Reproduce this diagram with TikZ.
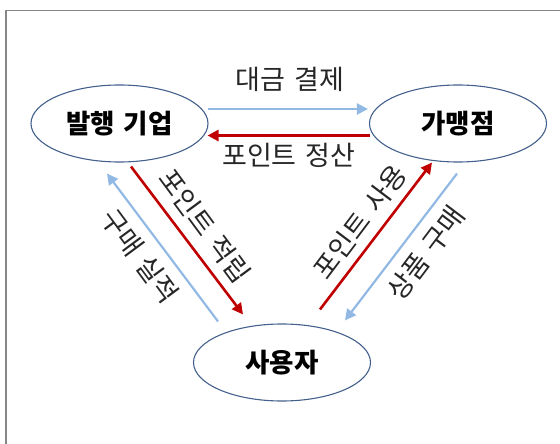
\documentclass[tikz,border=0pt]{standalone}
\usepackage{fontspec}
\usepackage{graphicx}
\setmainfont{Noto Sans CJK KR}
\usetikzlibrary{shapes.geometric,arrows.meta}
\definecolor{ellc}{RGB}{68,96,140}
\definecolor{bluea}{RGB}{145,185,228}
\definecolor{reda}{RGB}{192,0,0}
\definecolor{framec}{RGB}{135,135,135}
\newcommand{\wsp}{\hspace{0.34em}}
\tikzset{
  ell/.style={ellipse, draw=ellc, line width=1.1pt, minimum width=177pt, minimum height=77pt, inner sep=0pt,
    font=\fontsize{26.5}{30}\selectfont\bfseries},
  lbl/.style={inner sep=0pt, font=\fontsize{27}{31}\selectfont, text=black!85},
  bluearr/.style={draw=bluea, line width=2.2pt, -{Triangle[length=11pt,width=11pt]}},
  redarr/.style={draw=reda, line width=2.6pt, -{Triangle[length=11pt,width=11pt]}}
}
\begin{document}
\begin{tikzpicture}[x=1pt,y=-1pt]
\useasboundingbox (0,0) rectangle (560,444);
\draw[framec, line width=1.2pt] (6,10.7) rectangle (600,480);
\node[ell] (bal) at (119.5,123.5) {발행\wsp 기업};
\node[ell] (gmj) at (458,123.5) {가맹점};
\node[ell] (usr) at (282,362.5) {사용자};
% horizontal arrows
\draw[bluearr] ([shift={(-1,-14.5)}]bal.east) -- ([shift={(-1,-14.5)}]gmj.west);
\draw[redarr] ([shift={(1,12)}]gmj.west) -- ([shift={(-1,12)}]bal.east);
% diagonals
\draw[redarr] ([shift={(11.5,4)}]bal.south) -- ([shift={(-39,-9)}]usr.north);
\draw[bluearr] ([shift={(-64,-2)}]usr.north) -- ([shift={(-12.5,11)}]bal.south);
\draw[redarr] ([shift={(38,-14)}]usr.north) -- ([shift={(-26,0)}]gmj.south);
\draw[bluearr] ([shift={(-1,11)}]gmj.south) -- ([shift={(63,-3)}]usr.north);
% labels
\node[lbl] (l1) at (290,79) {대금\wsp 결제};
\node[lbl] (l2) at (289,155) {포인트\wsp 정산};
\node[lbl, rotate=-53.5] (l3) at (205,226) {포인트\wsp 적립};
\node[lbl, rotate=-53.5] (l4) at (140,256) {구매\wsp 실적};
\node[lbl, rotate=53] (l5) at (360,222) {포인트\wsp 사용};
\node[lbl, rotate=53] (l6) at (426,253) {상품\wsp 구매};
\end{tikzpicture}
\end{document}
